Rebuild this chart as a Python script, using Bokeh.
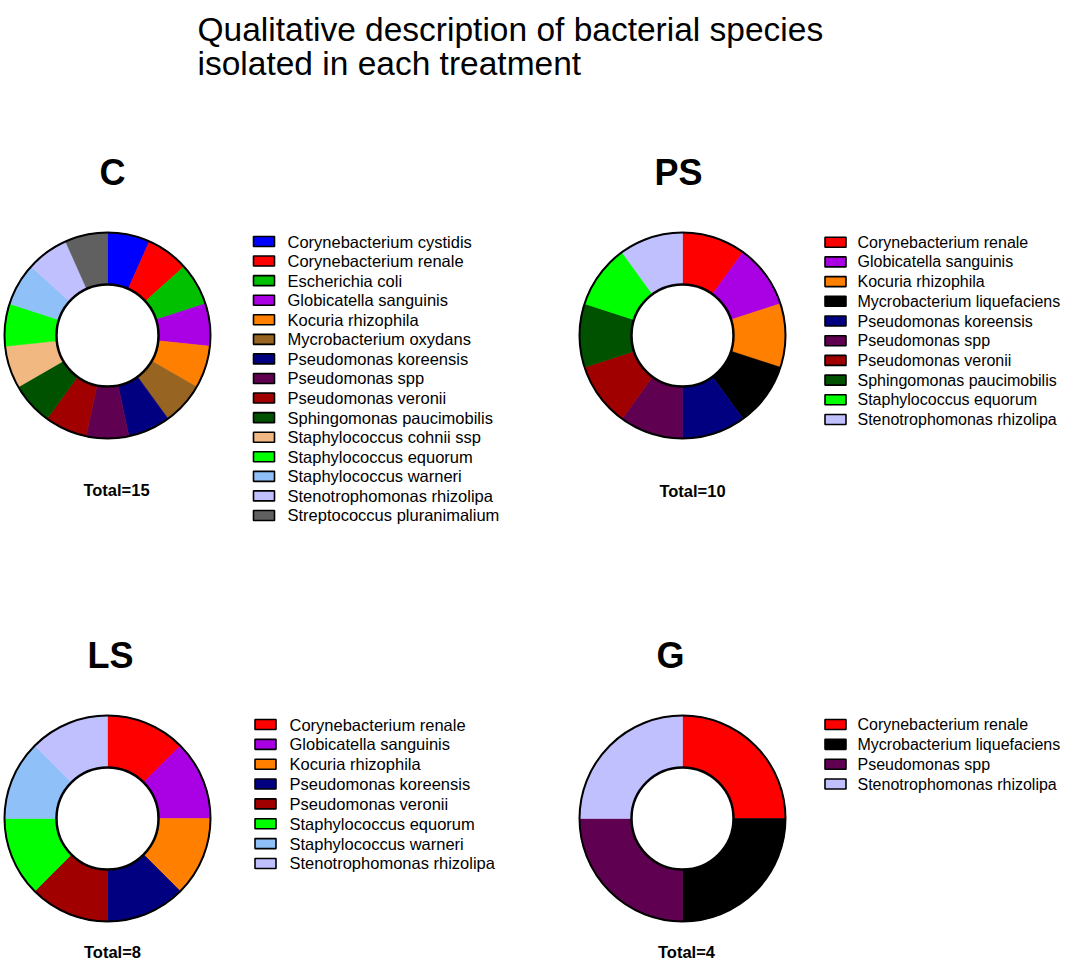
import math
from bokeh.plotting import figure
from bokeh.models import Range1d, ColumnDataSource
from bokeh.core.properties import value
from bokeh.embed import file_html
from bokeh.resources import INLINE

# ---------------- data ----------------
title_lines = ["Qualitative description of bacterial species", "isolated in each treatment"]

panel_names = ["C", "PS", "LS", "G"]

species_C = [
    "Corynebacterium cystidis", "Corynebacterium renale", "Escherichia coli",
    "Globicatella sanguinis", "Kocuria rhizophila", "Mycrobacterium oxydans",
    "Pseudomonas koreensis", "Pseudomonas spp", "Pseudomonas veronii",
    "Sphingomonas paucimobilis", "Staphylococcus cohnii ssp", "Staphylococcus equorum",
    "Staphylococcus warneri", "Stenotrophomonas rhizolipa", "Streptococcus pluranimalium",
]
counts_C = [1, 1, 1, 1, 1, 1, 1, 1, 1, 1, 1, 1, 1, 1, 1]

species_PS = [
    "Corynebacterium renale", "Globicatella sanguinis", "Kocuria rhizophila",
    "Mycrobacterium liquefaciens", "Pseudomonas koreensis", "Pseudomonas spp",
    "Pseudomonas veronii", "Sphingomonas paucimobilis", "Staphylococcus equorum",
    "Stenotrophomonas rhizolipa",
]
counts_PS = [1, 1, 1, 1, 1, 1, 1, 1, 1, 1]

species_LS = [
    "Corynebacterium renale", "Globicatella sanguinis", "Kocuria rhizophila",
    "Pseudomonas koreensis", "Pseudomonas veronii", "Staphylococcus equorum",
    "Staphylococcus warneri", "Stenotrophomonas rhizolipa",
]
counts_LS = [1, 1, 1, 1, 1, 1, 1, 1]

species_G = [
    "Corynebacterium renale", "Mycrobacterium liquefaciens", "Pseudomonas spp",
    "Stenotrophomonas rhizolipa",
]
counts_G = [1, 1, 1, 1]

species_colors = {
    "Corynebacterium cystidis": "#0000FF",
    "Corynebacterium renale": "#FF0000",
    "Escherichia coli": "#00C000",
    "Globicatella sanguinis": "#AA00E4",
    "Kocuria rhizophila": "#FF8000",
    "Mycrobacterium oxydans": "#986422",
    "Mycrobacterium liquefaciens": "#000000",
    "Pseudomonas koreensis": "#000080",
    "Pseudomonas spp": "#600050",
    "Pseudomonas veronii": "#A00000",
    "Sphingomonas paucimobilis": "#005200",
    "Staphylococcus cohnii ssp": "#F2B882",
    "Staphylococcus equorum": "#00FF00",
    "Staphylococcus warneri": "#90C0F8",
    "Stenotrophomonas rhizolipa": "#C0C0FF",
    "Streptococcus pluranimalium": "#606060",
}

# ---------------- layout (pixel positions, measured from top-left) ----------------
W, H = 1068, 960
FONT = "Liberation Sans"

panels = [
    dict(name="C", species=species_C, counts=counts_C, cx=107, cy=335,
         tx=112, ty=172, totx=116, toty=489, swx=263.5, txx=287, row0=241, step=19.57, fs="16.5px"),
    dict(name="PS", species=species_PS, counts=counts_PS, cx=682, cy=335,
         tx=678, ty=172, totx=692, toty=490, swx=835, txx=857, row0=241.7, step=19.7, fs="16px"),
    dict(name="LS", species=species_LS, counts=counts_LS, cx=107, cy=818,
         tx=110, ty=655, totx=112, toty=951, swx=265, txx=289, row0=724, step=19.85, fs="16.5px"),
    dict(name="G", species=species_G, counts=counts_G, cx=682, cy=818,
         tx=670, ty=655, totx=686, toty=951, swx=835, txx=857, row0=724, step=19.85, fs="16px"),
]
R_OUT = 103
R_IN = 51

p = figure(width=W, height=H, x_range=Range1d(0, W), y_range=Range1d(0, H),
           output_backend="svg", toolbar_location=None, tools="", min_border=0)
p.axis.visible = False
p.grid.visible = False
p.outline_line_color = None
p.background_fill_color = "white"
p.border_fill_color = "white"


def Y(top):
    return H - top


# Title
for i, line in enumerate(title_lines):
    p.text(x=[197], y=[Y(29 + i * 34)], text=[line], text_font=value(FONT),
           text_font_size="33.5px", text_color="black", text_baseline="alphabetic",
           text_align="left")

for pn in panels:
    sp = pn["species"]
    ct = pn["counts"]
    total = sum(ct)
    starts, ends, cols = [], [], []
    cum = 0
    for s, c in zip(sp, ct):
        a0 = math.pi / 2 - 2 * math.pi * cum / total
        cum += c
        a1 = math.pi / 2 - 2 * math.pi * cum / total
        starts.append(a0)
        ends.append(a1)
        cols.append(species_colors[s])
    n = len(sp)
    src = ColumnDataSource(dict(x=[pn["cx"]] * n, y=[Y(pn["cy"])] * n,
                                start=starts, end=ends, color=cols))
    p.annular_wedge(x="x", y="y", inner_radius=R_IN, outer_radius=R_OUT,
                    start_angle="start", end_angle="end", direction="clock",
                    fill_color="color", line_color="color", line_width=0.6, source=src)
    # outer & inner outlines
    p.circle(x=[pn["cx"]], y=[Y(pn["cy"])], radius=R_OUT, fill_color=None,
             line_color="black", line_width=2)
    p.circle(x=[pn["cx"]], y=[Y(pn["cy"])], radius=R_IN, fill_color="white",
             line_color="black", line_width=2.5)

    # panel title
    p.text(x=[pn["tx"]], y=[Y(pn["ty"])], text=[pn["name"]], text_font=value(FONT),
           text_font_size="36px", text_font_style="bold", text_color="black",
           text_align="center", text_baseline="alphabetic")
    # total label
    p.text(x=[pn["totx"]], y=[Y(pn["toty"])], text=["Total=%d" % total],
           text_font=value(FONT), text_font_size="16.5px", text_font_style="bold",
           text_color="black", text_align="center", text_baseline="alphabetic")

    # legend
    ys = [Y(pn["row0"] + i * pn["step"]) for i in range(n)]
    lsrc = ColumnDataSource(dict(x=[pn["swx"]] * n, tx=[pn["txx"]] * n, y=ys,
                                 color=cols, label=sp))
    p.rect(x="x", y="y", width=21, height=10, fill_color="color", line_color="black",
           line_width=1.6, source=lsrc)
    p.text(x="tx", y="y", text="label", text_font=value(FONT), text_font_size=pn["fs"],
           text_color="black", text_baseline="middle", text_align="left", source=lsrc)

open("out.html", "w").write(file_html(p, INLINE))
